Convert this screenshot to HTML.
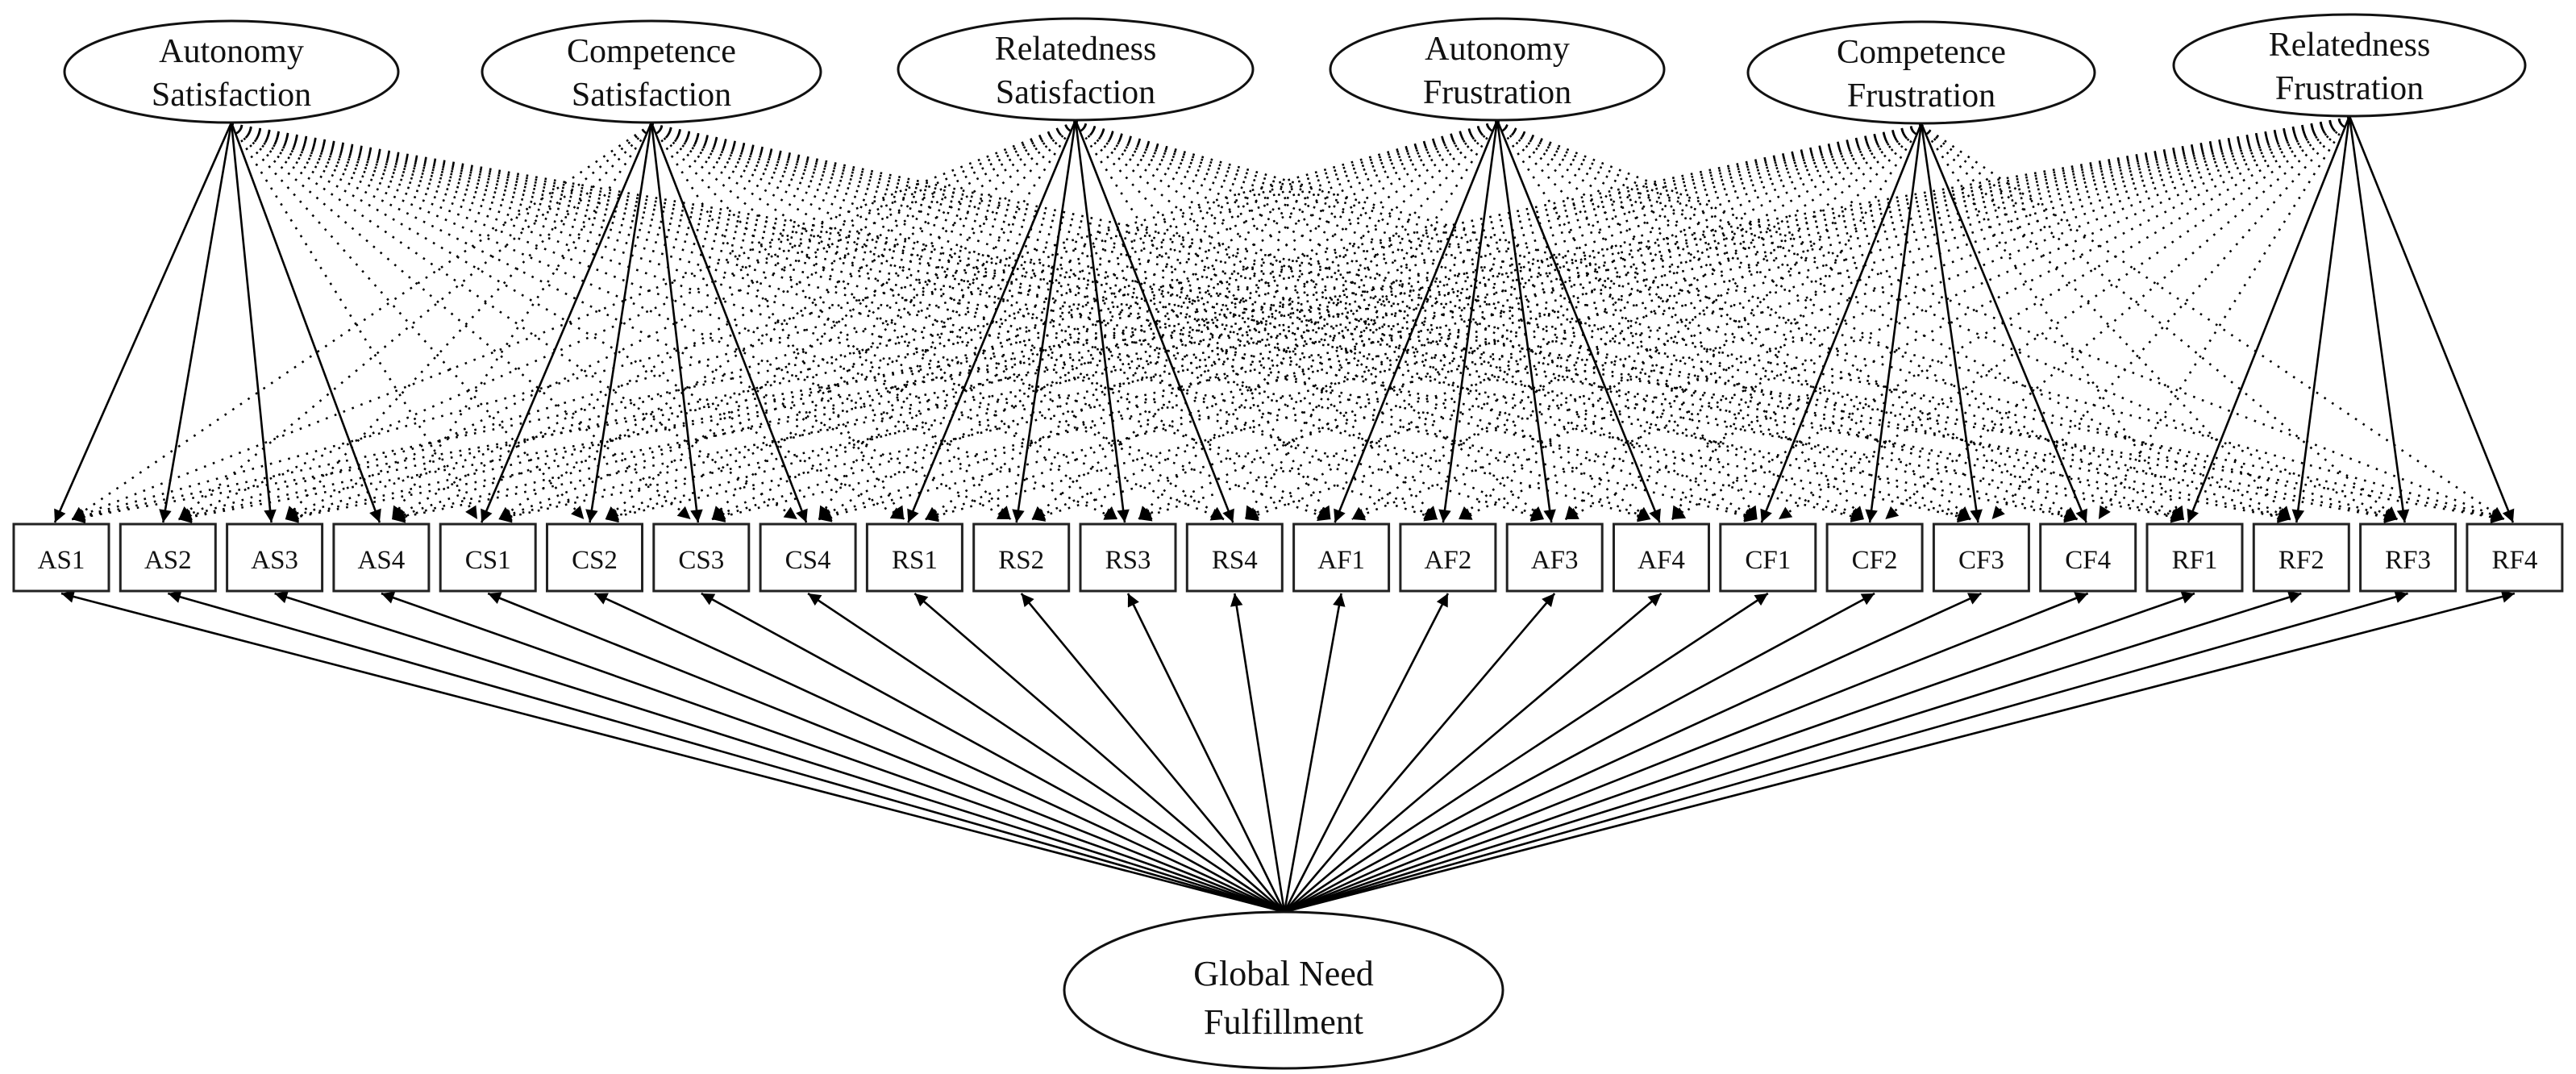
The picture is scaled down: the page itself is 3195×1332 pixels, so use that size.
<!DOCTYPE html>
<html><head><meta charset="utf-8"><style>
html,body{margin:0;padding:0;background:#fff;}
svg{display:block;}
text{font-family:"Liberation Serif",serif;fill:#111;}
</style></head><body>
<svg id="s" width="3195" height="1332" viewBox="0 0 3195 1332" xmlns="http://www.w3.org/2000/svg">
<defs>
<marker id="ah" viewBox="0 0 10 10" refX="10" refY="5" markerWidth="7" markerHeight="6" markerUnits="strokeWidth" orient="auto"><path d="M0,0 L10,5 L0,10 z" fill="#000"/></marker>
<marker id="ad" viewBox="0 0 10 10" refX="10" refY="5" markerWidth="8" markerHeight="6" markerUnits="strokeWidth" orient="auto"><path d="M0,0 L10,5 L0,10 z" fill="#000"/></marker>
</defs>
<g id="dots" stroke="#000" stroke-width="2.6" stroke-dasharray="2.6 9" fill="none"></g>
<g id="solid" stroke="#000" stroke-width="2.6" fill="none"></g>
<g id="nodes"></g>
</svg>
<script>
var NS="http://www.w3.org/2000/svg";
function el(t,a,p){var e=document.createElementNS(NS,t);for(var k in a)e.setAttribute(k,a[k]);p.appendChild(e);return e;}
var labels=["AS1","AS2","AS3","AS4","CS1","CS2","CS3","CS4","RS1","RS2","RS3","RS4","AF1","AF2","AF3","AF4","CF1","CF2","CF3","CF4","RF1","RF2","RF3","RF4"];
var W=118,T=650,B=733;
var lefts=labels.map(function(_,i){return 17+i*132.3;});
var facs=[
 {cx:287,cy:89,rx:207,l1:"Autonomy",l2:"Satisfaction"},
 {cx:808,cy:89,rx:210,l1:"Competence",l2:"Satisfaction"},
 {cx:1334,cy:86,rx:220,l1:"Relatedness",l2:"Satisfaction"},
 {cx:1857,cy:86,rx:207,l1:"Autonomy",l2:"Frustration"},
 {cx:2383,cy:90,rx:215,l1:"Competence",l2:"Frustration"},
 {cx:2914,cy:81,rx:218,l1:"Relatedness",l2:"Frustration"}
];
var RY=63;
var dots=document.getElementById("dots"),solid=document.getElementById("solid"),nodes=document.getElementById("nodes");
facs.forEach(function(f,fi){
  var hx=f.cx,hy=f.cy+RY;
  for(var i=0;i<24;i++){
    var bx=lefts[i]+W/2;
    var g=Math.floor(i/4);
    if(g===fi){
      el("line",{x1:hx,y1:hy,x2:bx-8+ (i%4)*2,y2:T-2,"marker-end":"url(#ah)"},solid);
    }else{
      var off=(g<fi)? 22 : -22;
      el("line",{x1:hx,y1:hy+2,x2:bx+off*0.6,y2:T-6,"marker-end":"url(#ad)"},dots);
    }
  }
});
var gx=1593,gy=1131;
for(var i=0;i<24;i++){
  var bx=lefts[i]+W/2;
  el("line",{x1:gx,y1:gy,x2:bx,y2:B+3,"marker-end":"url(#ah)"},solid);
}
for(var i=0;i<24;i++){
  el("rect",{x:lefts[i],y:T,width:W,height:B-T,fill:"#fff",stroke:"#222","stroke-width":3},nodes);
  var t=el("text",{x:lefts[i]+W/2,y:T+55,"text-anchor":"middle","font-size":33},nodes);t.textContent=labels[i];
}
facs.forEach(function(f){
  el("ellipse",{cx:f.cx,cy:f.cy,rx:f.rx,ry:RY,fill:"#fff",stroke:"#111","stroke-width":3},nodes);
  var a=el("text",{x:f.cx,y:f.cy-12,"text-anchor":"middle","font-size":42},nodes);a.textContent=f.l1;
  var b=el("text",{x:f.cx,y:f.cy+42,"text-anchor":"middle","font-size":42},nodes);b.textContent=f.l2;
});
el("ellipse",{cx:1592,cy:1228,rx:272,ry:97,fill:"#fff",stroke:"#111","stroke-width":3},nodes);
var a=el("text",{x:1592,y:1222,"text-anchor":"middle","font-size":44},nodes);a.textContent="Global Need";
var b=el("text",{x:1592,y:1282,"text-anchor":"middle","font-size":44},nodes);b.textContent="Fulfillment";
</script>
</body></html>
